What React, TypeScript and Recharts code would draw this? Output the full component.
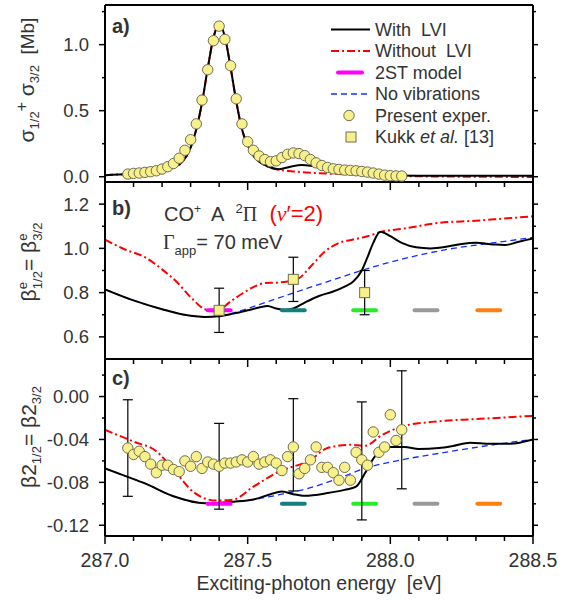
import React from "react";
import { ComposedChart, Line, Scatter, XAxis, YAxis, ErrorBar } from "recharts";

// ---- shared x axis ----
const X_DOMAIN = [287.0, 288.5];
const X_TICKS = [287.0, 287.1, 287.2, 287.3, 287.4, 287.5, 287.6, 287.7, 287.8, 287.9, 288.0, 288.1, 288.2, 288.3, 288.4, 288.5];
const X_MAJOR = [287.0, 287.5, 288.0, 288.5];

// ---- experiment (present), same energies in a) and c) ----
const EXP_E = [287.08, 287.10, 287.12, 287.14, 287.16, 287.18, 287.20, 287.22, 287.24, 287.26, 287.28, 287.30, 287.32, 287.34, 287.36, 287.38, 287.40, 287.42, 287.44, 287.46, 287.48, 287.50, 287.52, 287.54, 287.56, 287.58, 287.60, 287.62, 287.64, 287.66, 287.68, 287.70, 287.72, 287.74, 287.76, 287.78, 287.80, 287.82, 287.84, 287.86, 287.88, 287.90, 287.92, 287.94, 287.96, 287.98, 288.00, 288.02, 288.04];
const SIGMA_EXP = [0.020, 0.025, 0.028, 0.033, 0.038, 0.045, 0.058, 0.076, 0.100, 0.140, 0.200, 0.280, 0.400, 0.580, 0.810, 1.030, 1.140, 1.040, 0.840, 0.590, 0.400, 0.265, 0.200, 0.157, 0.130, 0.114, 0.120, 0.145, 0.170, 0.180, 0.175, 0.160, 0.130, 0.105, 0.085, 0.070, 0.060, 0.055, 0.050, 0.048, 0.045, 0.040, 0.035, 0.028, 0.020, 0.012, 0.008, 0.006, 0.005];
const BETA2_EXP = [-0.048, -0.054, -0.051, -0.056, -0.063, -0.071, -0.064, -0.064, -0.068, -0.070, -0.060, -0.065, -0.056, -0.067, -0.061, -0.063, -0.065, -0.062, -0.062, -0.061, -0.059, -0.061, -0.056, -0.063, -0.061, -0.059, -0.062, -0.069, -0.056, -0.047, -0.072, -0.067, -0.059, -0.047, -0.066, -0.066, -0.071, -0.078, -0.066, -0.078, -0.052, -0.059, -0.064, -0.033, -0.052, -0.047, -0.017, -0.041, -0.031];
const BETA2_ERR_E = [287.08, 287.40, 287.66, 287.90, 288.04];
const BETA2_ERR_MID = [-0.048, -0.065, -0.045, -0.060, -0.031];
const BETA2_ERR = [0.045, 0.040, 0.043, 0.055, 0.055];

// ---- Kukk et al. ----
const KUKK_E = [287.40, 287.66, 287.91];
const KUKK_BETA = [0.72, 0.86, 0.80];
const KUKK_ERR = [0.10, 0.10, 0.10];

// ---- 2ST model levels ----
const TWO_ST_E = [287.40, 287.66, 287.91, 288.125, 288.345];
const TWO_ST_COLORS = ["#ff00ff", "#157f7f", "#22ee22", "#999999", "#ff7f0e"];
const TWO_ST_HALF = 0.04;
const TWO_ST_B = 0.72;
const TWO_ST_C = -0.1;

// ---- a) cross section ----
const LVI_A_E = [287.00, 287.05, 287.10, 287.15, 287.20, 287.24, 287.27, 287.30, 287.32, 287.34, 287.36, 287.38, 287.40, 287.42, 287.44, 287.46, 287.48, 287.50, 287.52, 287.55, 287.58, 287.61, 287.65, 287.69, 287.73, 287.78, 287.83, 287.88, 287.92, 287.96, 288.00, 288.10, 288.30, 288.50];
const LVI_A = [0.012, 0.017, 0.022, 0.030, 0.045, 0.070, 0.110, 0.220, 0.360, 0.560, 0.820, 1.050, 1.160, 1.060, 0.830, 0.570, 0.360, 0.240, 0.160, 0.100, 0.070, 0.057, 0.076, 0.088, 0.080, 0.065, 0.056, 0.050, 0.035, 0.018, 0.010, 0.008, 0.008, 0.008];
const NOLVI_A_E = [287.00, 287.05, 287.10, 287.15, 287.20, 287.24, 287.27, 287.30, 287.32, 287.34, 287.36, 287.38, 287.40, 287.42, 287.44, 287.46, 287.48, 287.50, 287.52, 287.55, 287.58, 287.62, 287.66, 287.72, 287.80, 287.90, 288.00, 288.10, 288.30, 288.50];
const NOLVI_A = [0.012, 0.017, 0.022, 0.030, 0.045, 0.070, 0.110, 0.220, 0.360, 0.560, 0.820, 1.050, 1.160, 1.060, 0.830, 0.570, 0.360, 0.240, 0.160, 0.100, 0.068, 0.050, 0.040, 0.030, 0.022, 0.015, 0.008, 0.003, 0.000, -0.002];

// ---- b) beta^e ----
const LVI_B_E = [287.00, 287.10, 287.20, 287.30, 287.35, 287.40, 287.45, 287.50, 287.54, 287.57, 287.60, 287.63, 287.66, 287.70, 287.75, 287.80, 287.84, 287.87, 287.90, 287.92, 287.94, 287.965, 288.00, 288.04, 288.09, 288.14, 288.20, 288.25, 288.30, 288.36, 288.40, 288.45, 288.50];
const LVI_B = [0.815, 0.765, 0.725, 0.695, 0.690, 0.693, 0.705, 0.720, 0.733, 0.740, 0.728, 0.722, 0.728, 0.755, 0.785, 0.805, 0.827, 0.850, 0.900, 0.960, 1.025, 1.075, 1.055, 1.025, 1.005, 1.000, 1.008, 1.020, 1.025, 1.018, 1.015, 1.030, 1.045];
const NOLVI_B_E = [287.00, 287.07, 287.14, 287.20, 287.25, 287.30, 287.35, 287.39, 287.44, 287.48, 287.52, 287.56, 287.60, 287.64, 287.68, 287.72, 287.77, 287.82, 287.87, 287.92, 287.97, 288.05, 288.17, 288.30, 288.40, 288.50];
const NOLVI_B = [1.040, 0.995, 0.960, 0.905, 0.850, 0.780, 0.725, 0.715, 0.760, 0.795, 0.825, 0.843, 0.845, 0.850, 0.865, 0.917, 0.985, 1.025, 1.040, 1.055, 1.075, 1.090, 1.115, 1.125, 1.135, 1.145];
const NOVIB_B_E = [287.00, 287.10, 287.20, 287.30, 287.35, 287.40, 287.46, 287.52, 287.60, 287.71, 287.80, 287.87, 287.95, 288.03, 288.12, 288.22, 288.32, 288.42, 288.50];
const NOVIB_B = [0.815, 0.765, 0.725, 0.695, 0.690, 0.695, 0.712, 0.737, 0.772, 0.820, 0.858, 0.888, 0.920, 0.948, 0.975, 1.000, 1.018, 1.035, 1.050];

// ---- c) beta2 ----
const LVI_C_E = [287.00, 287.07, 287.14, 287.24, 287.35, 287.45, 287.52, 287.58, 287.62, 287.66, 287.70, 287.78, 287.84, 287.88, 287.91, 287.94, 287.97, 288.00, 288.05, 288.10, 288.17, 288.22, 288.28, 288.35, 288.42, 288.50];
const LVI_C = [-0.067, -0.074, -0.081, -0.093, -0.0995, -0.098, -0.096, -0.091, -0.0885, -0.091, -0.0925, -0.090, -0.087, -0.084, -0.072, -0.058, -0.049, -0.047, -0.047, -0.049, -0.048, -0.046, -0.043, -0.044, -0.044, -0.040];
const NOLVI_C_E = [287.00, 287.10, 287.18, 287.24, 287.31, 287.39, 287.45, 287.52, 287.61, 287.72, 287.78, 287.86, 287.91, 287.97, 288.04, 288.17, 288.30, 288.50];
const NOLVI_C = [-0.031, -0.042, -0.051, -0.068, -0.089, -0.097, -0.096, -0.084, -0.070, -0.059, -0.048, -0.045, -0.046, -0.036, -0.028, -0.023, -0.021, -0.018];
const NOVIB_C_E = [287.00, 287.07, 287.14, 287.24, 287.35, 287.45, 287.52, 287.62, 287.72, 287.82, 287.91, 288.04, 288.17, 288.36, 288.50];
const NOVIB_C = [-0.067, -0.074, -0.081, -0.093, -0.0995, -0.098, -0.096, -0.091, -0.085, -0.076, -0.067, -0.059, -0.053, -0.045, -0.040];

// ---- y ticks ----
const A_DOMAIN = [-0.04, 1.3];
const A_YTICKS = [0, 0.25, 0.5, 0.75, 1.0, 1.25];
const A_YMAJOR = [0, 0.5, 1.0];
const B_DOMAIN = [0.5, 1.3];
const B_YTICKS = [0.6, 0.7, 0.8, 0.9, 1.0, 1.1, 1.2];
const B_YMAJOR = [0.6, 0.8, 1.0, 1.2];
const C_DOMAIN = [-0.13, 0.035];
const C_YTICKS = [0.02, 0, -0.02, -0.04, -0.06, -0.08, -0.1, -0.12];
const C_YMAJOR = [0, -0.04, -0.08, -0.12];

const NB = "\u00a0";
const LEGEND = [`With${NB} LVI`, `Without${NB} LVI`, "2ST model", "No vibrations", "Present exper.", "Kukk"];

const FONT = "'Liberation Sans', Arial, Helvetica, sans-serif";
const SERIF = "'Liberation Serif', 'DejaVu Serif', serif";
const TXT = "#333";
const RED = "#ff0000";
const BLUE = "#1030ff";
const DASHDOT = "8 3 2 3";
const DASH = "6 4";
const YEL = "#f8f08a";
const YEL_EDGE = "#6e6e55";

const pts = (xs: number[], ys: number[]) => xs.map((x, i) => ({ x, y: ys[i] }));
const has = (arr: number[], v: number) => arr.some((m) => Math.abs(m - v) < 1e-9);

const bottomTick = (labels: boolean) => (p: any) => {
  const v = p.payload.value;
  const major = has(X_MAJOR, v);
  return (
    <g>
      <line x1={p.x} x2={p.x} y1={p.y} y2={p.y + (major ? 8 : 5)} stroke="#000" strokeWidth={1.5} />
      {labels && major && (
        <text x={p.x} y={p.y + 24} dy="0.35em" textAnchor="middle" fontSize={19.5} fontFamily={FONT} fill={TXT}>
          {v.toFixed(1)}
        </text>
      )}
    </g>
  );
};
const topTick = (p: any) => {
  const major = has(X_MAJOR, p.payload.value);
  return <line x1={p.x} x2={p.x} y1={p.y} y2={p.y - (major ? 5 : 3)} stroke="#000" strokeWidth={1.5} />;
};
const leftTick = (major: number[], digits: number) => (p: any) => {
  const v = p.payload.value;
  const m = has(major, v);
  return (
    <g>
      <line x1={p.x} x2={p.x - (m ? 6 : 3)} y1={p.y} y2={p.y} stroke="#000" strokeWidth={1.5} />
      {m && (
        <text x={p.x - 16} y={p.y} dy="0.35em" textAnchor="end" fontSize={18.5} fontFamily={FONT} fill={TXT}>
          {v.toFixed(digits)}
        </text>
      )}
    </g>
  );
};
const rightTick = (major: number[]) => (p: any) => {
  const m = has(major, p.payload.value);
  return <line x1={p.x} x2={p.x + (m ? 5 : 3)} y1={p.y} y2={p.y} stroke="#000" strokeWidth={1.5} />;
};

const circle = (p: any) => <circle cx={p.cx} cy={p.cy} r={5.2} fill={YEL} stroke={YEL_EDGE} strokeWidth={1} />;
const square = (p: any) => <rect x={p.cx - 5} y={p.cy - 5} width={10} height={10} fill={YEL} stroke={YEL_EDGE} strokeWidth={1} />;
const nothing = () => <g />;

const axisLine = { stroke: "#000", strokeWidth: 2 };

export default function App() {
  const twoSt = (y: number) =>
    TWO_ST_E.map((e, i) => (
      <Line
        key={`st-${i}`}
        data={[{ x: e - TWO_ST_HALF, y }, { x: e + TWO_ST_HALF, y }]}
        dataKey="y"
        stroke={TWO_ST_COLORS[i]}
        strokeWidth={4}
        strokeLinecap="round"
        dot={false}
        isAnimationActive={false}
      />
    ));

  return (
    <div style={{ position: "absolute", left: 0, top: 0, width: 567, height: 600, background: "#fff" }}>
      {/* a) */}
      <div style={{ position: "absolute", left: 0, top: 0 }}>
        <ComposedChart width={567} height={192} margin={{ top: 0, right: 0, bottom: 0, left: 0 }}>
          <XAxis type="number" dataKey="x" domain={X_DOMAIN} ticks={X_TICKS} interval={0} allowDataOverflow height={10} tickSize={0} tickMargin={0} tickLine={false} axisLine={axisLine} tick={bottomTick(false)} />
          <XAxis xAxisId="top" orientation="top" type="number" domain={X_DOMAIN} ticks={X_TICKS} interval={0} allowDataOverflow height={5} tickSize={0} tickMargin={0} tickLine={false} axisLine={axisLine} tick={topTick} />
          <YAxis type="number" dataKey="y" domain={A_DOMAIN} ticks={A_YTICKS} interval={0} allowDataOverflow width={105} tickSize={0} tickMargin={0} tickLine={false} axisLine={axisLine} tick={leftTick(A_YMAJOR, 1)} />
          <YAxis yAxisId="right" orientation="right" type="number" domain={A_DOMAIN} ticks={A_YTICKS} interval={0} allowDataOverflow width={34} tickSize={0} tickMargin={0} tickLine={false} axisLine={axisLine} tick={rightTick(A_YMAJOR)} />
          <Scatter data={pts(EXP_E, SIGMA_EXP)} dataKey="y" shape={circle} isAnimationActive={false} />
          <Line type="monotone" data={pts(NOLVI_A_E, NOLVI_A)} dataKey="y" stroke={RED} strokeWidth={2} strokeDasharray={DASHDOT} dot={false} isAnimationActive={false} />
          <Line type="monotone" data={pts(LVI_A_E, LVI_A)} dataKey="y" stroke="#000" strokeWidth={2} dot={false} isAnimationActive={false} />
        </ComposedChart>
      </div>

      {/* b) */}
      <div style={{ position: "absolute", left: 0, top: 182 }}>
        <ComposedChart width={567} height={187} margin={{ top: 0, right: 0, bottom: 0, left: 0 }}>
          <XAxis type="number" dataKey="x" domain={X_DOMAIN} ticks={X_TICKS} interval={0} allowDataOverflow height={10} tickSize={0} tickMargin={0} tickLine={false} axisLine={axisLine} tick={bottomTick(false)} />
          <YAxis type="number" dataKey="y" domain={B_DOMAIN} ticks={B_YTICKS} interval={0} allowDataOverflow width={105} tickSize={0} tickMargin={0} tickLine={false} axisLine={axisLine} tick={leftTick(B_YMAJOR, 1)} />
          <YAxis yAxisId="right" orientation="right" type="number" domain={B_DOMAIN} ticks={B_YTICKS} interval={0} allowDataOverflow width={34} tickSize={0} tickMargin={0} tickLine={false} axisLine={axisLine} tick={rightTick(B_YMAJOR)} />
          <Line type="monotone" data={pts(NOVIB_B_E, NOVIB_B)} dataKey="y" stroke={BLUE} strokeWidth={1.3} strokeDasharray={DASH} dot={false} isAnimationActive={false} />
          <Line type="monotone" data={pts(NOLVI_B_E, NOLVI_B)} dataKey="y" stroke={RED} strokeWidth={2} strokeDasharray={DASHDOT} dot={false} isAnimationActive={false} />
          <Line type="monotone" data={pts(LVI_B_E, LVI_B)} dataKey="y" stroke="#000" strokeWidth={2} dot={false} isAnimationActive={false} />
          {twoSt(TWO_ST_B)}
          <Scatter
            data={KUKK_E.map((x, i) => ({ x, y: KUKK_BETA[i], err: KUKK_ERR[i] }))}
            dataKey="y"
            shape={square}
            isAnimationActive={false}
          >
            <ErrorBar dataKey="err" direction="y" width={5} stroke="#000" strokeWidth={1.2} />
          </Scatter>
        </ComposedChart>
      </div>

      {/* c) */}
      <div style={{ position: "absolute", left: 0, top: 359 }}>
        <ComposedChart width={567} height={241} margin={{ top: 0, right: 0, bottom: 0, left: 0 }}>
          <XAxis type="number" dataKey="x" domain={X_DOMAIN} ticks={X_TICKS} interval={0} allowDataOverflow height={64} tickSize={0} tickMargin={0} tickLine={false} axisLine={axisLine} tick={bottomTick(true)} />
          <YAxis type="number" dataKey="y" domain={C_DOMAIN} ticks={C_YTICKS} interval={0} allowDataOverflow width={105} tickSize={0} tickMargin={0} tickLine={false} axisLine={axisLine} tick={leftTick(C_YMAJOR, 2)} />
          <YAxis yAxisId="right" orientation="right" type="number" domain={C_DOMAIN} ticks={C_YTICKS} interval={0} allowDataOverflow width={34} tickSize={0} tickMargin={0} tickLine={false} axisLine={axisLine} tick={rightTick(C_YMAJOR)} />
          <Line type="monotone" data={pts(NOVIB_C_E, NOVIB_C)} dataKey="y" stroke={BLUE} strokeWidth={1.3} strokeDasharray={DASH} dot={false} isAnimationActive={false} />
          <Line type="monotone" data={pts(NOLVI_C_E, NOLVI_C)} dataKey="y" stroke={RED} strokeWidth={2} strokeDasharray={DASHDOT} dot={false} isAnimationActive={false} />
          <Line type="monotone" data={pts(LVI_C_E, LVI_C)} dataKey="y" stroke="#000" strokeWidth={2} dot={false} isAnimationActive={false} />
          {twoSt(TWO_ST_C)}
          <Scatter
            data={BETA2_ERR_E.map((x, i) => ({ x, y: BETA2_ERR_MID[i], err: BETA2_ERR[i] }))}
            dataKey="y"
            shape={nothing}
            isAnimationActive={false}
          >
            <ErrorBar dataKey="err" direction="y" width={5} stroke="#000" strokeWidth={1.2} />
          </Scatter>
          <Scatter data={pts(EXP_E, BETA2_EXP)} dataKey="y" shape={circle} isAnimationActive={false} />
        </ComposedChart>
      </div>

      {/* texts, legend */}
      <svg width={567} height={600} style={{ position: "absolute", left: 0, top: 0, pointerEvents: "none" }} fontFamily={FONT} fill={TXT}>
        <text x={112} y={33} fontSize={20} fontWeight="bold">a)</text>
        <text x={112} y={215} fontSize={20} fontWeight="bold">b)</text>
        <text x={112} y={385} fontSize={20} fontWeight="bold">c)</text>

        <text x={164} y={221} fontSize={20}>
          CO<tspan dy={-8} fontSize={12}>+</tspan>
          <tspan dy={8}>{`${NB} A${NB} `}</tspan>
          <tspan dy={-8} fontSize={13}>2</tspan>
          <tspan dy={8} fontFamily={SERIF}>Π</tspan>
          <tspan fill={RED} fontSize={22}>
            {`${NB} (`}
            <tspan fontStyle="italic" fontFamily={SERIF}>v</tspan>
            {"′=2)"}
          </tspan>
        </text>
        <text x={163} y={249} fontSize={20}>
          <tspan fontFamily={SERIF}>Γ</tspan>
          <tspan dy={6} fontSize={13}>app</tspan>
          <tspan dy={-6}>= 70 meV</tspan>
        </text>

        {/* y labels */}
        <text transform="translate(34,80) rotate(-90)" textAnchor="middle" fontSize={21}>
          σ<tspan dy={5} fontSize={13}>1/2</tspan>
          <tspan dy={-12} fontSize={16}>+</tspan>
          <tspan dy={7}> σ</tspan>
          <tspan dy={5} fontSize={13}>3/2</tspan>
          <tspan dy={-5} fontSize={19}>{`${NB}${NB}[Mb]`}</tspan>
        </text>
        <text transform="translate(36,262) rotate(-90)" textAnchor="middle" fontSize={21}>
          β<tspan dy={-9} fontSize={13}>e</tspan>
          <tspan dx={-7} dy={15} fontSize={13}>1/2</tspan>
          <tspan dy={-6}>= β</tspan>
          <tspan dy={-9} fontSize={13}>e</tspan>
          <tspan dx={-7} dy={15} fontSize={13}>3/2</tspan>
        </text>
        <text transform="translate(36,437) rotate(-90)" textAnchor="middle" fontSize={21}>
          β2<tspan dy={5} fontSize={13}>1/2</tspan>
          <tspan dy={-5}>= β2</tspan>
          <tspan dy={5} fontSize={13}>3/2</tspan>
        </text>

        <text x={319} y={583} dy="0.35em" textAnchor="middle" fontSize={19.5}>
          {`Exciting-photon energy${NB} [eV]`}
        </text>

        {/* legend */}
        {LEGEND.map((name, i) => {
          const y = 29.5 + i * 21.5;
          let sample: React.ReactNode = null;
          if (i === 0) sample = <line x1={331} x2={370} y1={y} y2={y} stroke="#000" strokeWidth={2} />;
          if (i === 1) sample = <line x1={331} x2={370} y1={y} y2={y} stroke={RED} strokeWidth={2} strokeDasharray={DASHDOT} />;
          if (i === 2) sample = <line x1={338} x2={362} y1={y} y2={y} stroke="#ff00ff" strokeWidth={4} strokeLinecap="round" />;
          if (i === 3) sample = <line x1={331} x2={370} y1={y} y2={y} stroke={BLUE} strokeWidth={1.3} strokeDasharray={DASH} />;
          if (i === 4) sample = <circle cx={349} cy={y} r={5.2} fill={YEL} stroke={YEL_EDGE} />;
          if (i === 5) sample = <rect x={346} y={y - 5} width={10} height={10} fill={YEL} stroke={YEL_EDGE} />;
          return (
            <g key={name}>
              {sample}
              <text x={375} y={y} dy="0.35em" fontSize={18}>
                {i === 5 ? (
                  <>
                    Kukk <tspan fontStyle="italic">et al.</tspan> [13]
                  </>
                ) : (
                  name
                )}
              </text>
            </g>
          );
        })}
      </svg>
    </div>
  );
}
